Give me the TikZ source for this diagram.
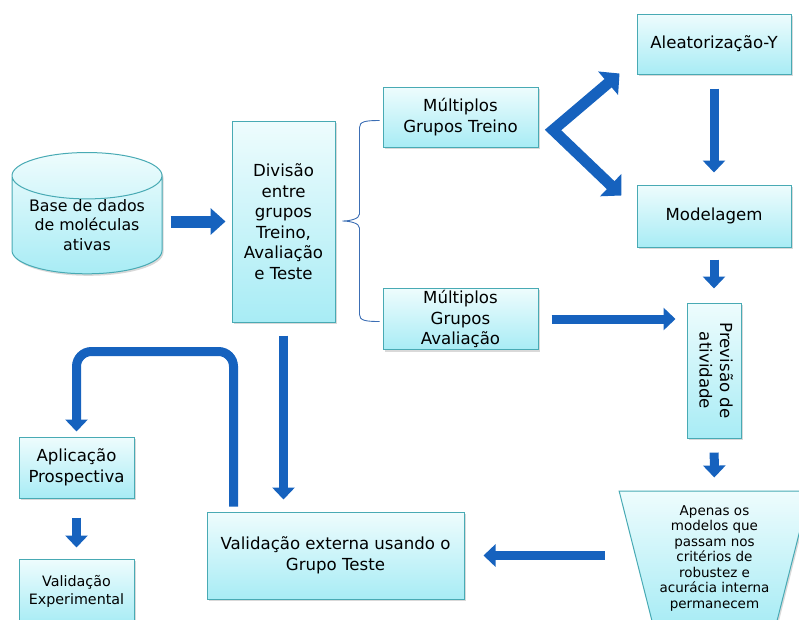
\documentclass[tikz,border=0pt]{standalone}
\usepackage{fontspec}
\usepackage{graphicx}
\setmainfont{DejaVu Sans}
\usetikzlibrary{positioning, shapes.geometric, arrows.meta, shadows}

\definecolor{boxline}{RGB}{72,170,180}
\definecolor{boxtop}{RGB}{238,252,253}
\definecolor{boxbottom}{RGB}{168,236,245}
\definecolor{arrowblue}{RGB}{22,98,190}
\definecolor{bracecol}{RGB}{60,110,180}

\tikzset{
  box/.style={draw=boxline, line width=1pt, top color=boxtop, bottom color=boxbottom,
    align=center, inner sep=2pt, font=\fontsize{16.6}{20.5}\selectfont,
    drop shadow={shadow xshift=1.5pt, shadow yshift=-2pt, opacity=0.3}},
  fatarrow/.style={draw=arrowblue, line width=9pt, -{Triangle[length=12pt,width=22pt]}},
  bracepath/.style={draw=bracecol, line width=0.9pt},
}

\begin{document}
\begin{tikzpicture}[x=1pt, y=-1pt]
    \useasboundingbox (0,0) rectangle (799,619);

    \node[box, shape=cylinder, shape border rotate=90, aspect=0.4, inner sep=0pt,
          minimum width=150pt, minimum height=100pt,
          font=\fontsize{15.8}{19.5}\selectfont] (db) at (87,225) {Base de dados\\de moléculas\\ativas};
    \node[box, minimum width=103pt, minimum height=201pt] (div) at (283.5,221.5) {Divisão\\entre\\grupos\\Treino,\\Avaliação\\e Teste};
    \node[box, minimum width=155pt, minimum height=60pt] (treino) at (460.5,117) {Múltiplos\\Grupos Treino};
    \node[box, minimum width=155pt, minimum height=60pt] (aval) at (460.5,319) {Múltiplos\\Grupos\\Avaliação};

    \node[box, minimum width=154pt, minimum height=60pt] (aleat) at (714,44) {Aleatorização-Y};
    \node[box, minimum width=154pt, minimum height=62pt, below=110pt of aleat] (model) {Modelagem};
    \node[box, minimum width=54pt, minimum height=135pt, below=55pt of model] (prev)
        {\rotatebox{-90}{\begin{tabular}{@{}c@{}}Previsão de\\atividade\end{tabular}}};
    \node[box, shape=trapezium, trapezium angle=74, shape border rotate=180,
          trapezium stretches=true, minimum width=191pt, minimum height=134pt, inner sep=0pt,
          font=\fontsize{13.5}{15.5}\selectfont] (funnel) at (714.5,558)
        {Apenas os\\modelos que\\passam nos\\critérios de\\robustez e\\acurácia interna\\permanecem};

    \node[box, minimum width=257pt, minimum height=87pt] (validext) at (335.5,555.5) {Validação externa usando o\\Grupo Teste};
    \node[box, minimum width=115pt, minimum height=61pt] (aplic) at (76.5,467.5) {Aplicação\\Prospectiva};
    \node[box, minimum width=115pt, minimum height=64pt, below=60pt of aplic,
          font=\fontsize{14.3}{18}\selectfont] (valexp) {Validação\\Experimental};

    % brace between the split and the two groups
    \draw[bracepath] ([xshift=-3pt]treino.west |- div.north)
        .. controls +(-14,0) and +(0,-6) .. ++(-20,7)
        -- ++(0,86.5)
        .. controls +(0,5) and +(7,0) .. ++(-17,7)
        .. controls +(7,0) and +(0,-5) .. ++(17,7)
        -- ++(0,86.5)
        .. controls +(0,6) and +(-14,0) .. ++(20,7);

    \coordinate (fork) at (553,130);

    \draw[fatarrow, line width=12pt, -{Triangle[length=15pt,width=26pt]}, shorten <=8pt, shorten >=6pt]
        (db.east |- div.west) -- (div.west);
    \draw[fatarrow, line width=11pt, line join=miter,
          {Triangle[length=15pt,width=30pt]}-{Triangle[length=15pt,width=30pt]}]
        ([xshift=-17pt,yshift=1pt]aleat.south west) -- (fork) -- ([xshift=-15pt,yshift=-11pt]model.north west);
    \draw[fatarrow, shorten <=14pt, shorten >=12pt] (aleat) -- (model);
    \draw[fatarrow, shorten <=12pt, shorten >=14pt] (model) -- (prev);
    \draw[fatarrow, shorten <=13pt, shorten >=11pt] (aval.east) -- (aval.east -| prev.west);
    \draw[fatarrow, shorten <=14pt, shorten >=13pt] (prev) -- (funnel);
    \draw[fatarrow, shorten >=19pt] ([xshift=-31pt]funnel.west |- validext.east) -- (validext.east);
    \draw[fatarrow, shorten <=13pt, shorten >=12pt] (div.south) -- (div.south |- validext.north);
    \draw[fatarrow, rounded corners=15pt]
        ([xshift=27pt,yshift=5pt]validext.north west) -- ++(0,-155) -| ([yshift=5pt]aplic.north);
    \draw[fatarrow, shorten <=19pt, shorten >=11pt] (aplic) -- (valexp);

\end{tikzpicture}
\end{document}
